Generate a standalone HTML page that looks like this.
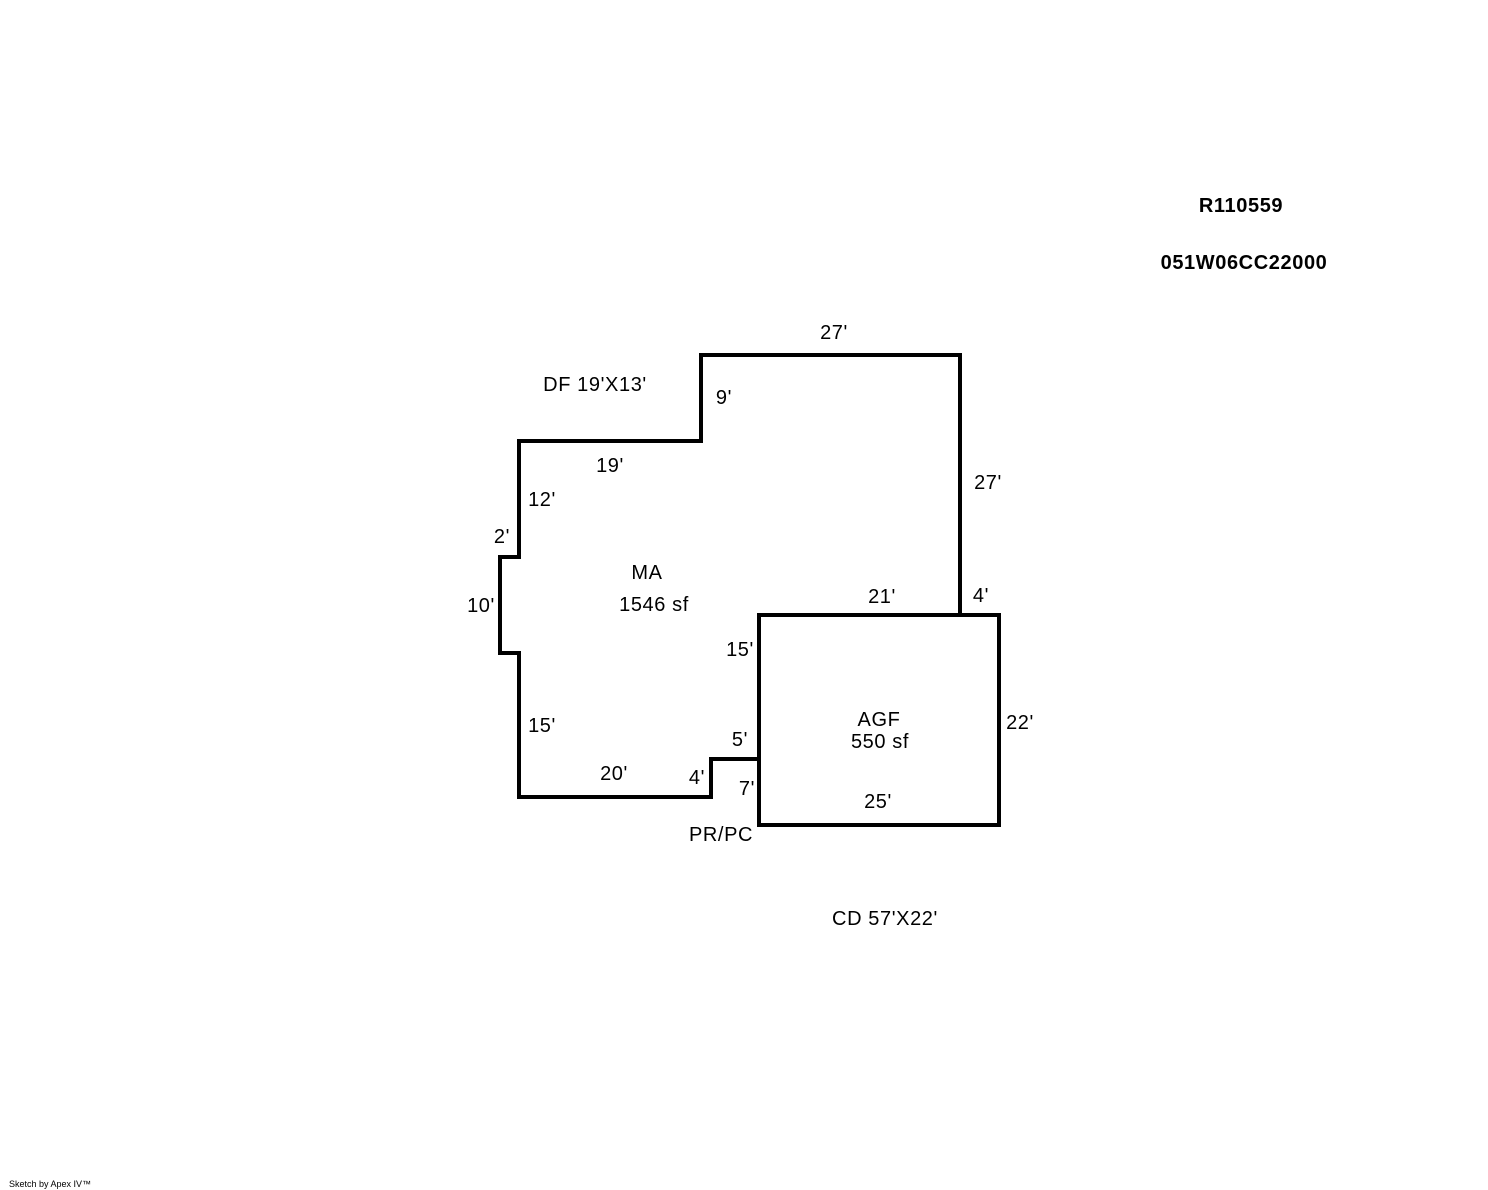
<!DOCTYPE html>
<html><head><style>
html,body{margin:0;padding:0;background:#fff;}
svg{display:block;}
text{font-family:"Liberation Sans",Arial,sans-serif;font-size:20px;letter-spacing:0.6px;fill:#000;text-anchor:middle;}
</style></head><body>
<svg width="1488" height="1190" viewBox="0 0 1488 1190">
<g fill="none" stroke="#000" stroke-width="4" stroke-linejoin="miter" stroke-linecap="square">
<polyline points="759,615 960,615 960,355 701,355 701,441 519,441 519,557 500,557 500,653 519,653 519,797 711,797 711,759 759,759"/>
<rect x="759" y="615" width="240" height="210"/>
</g>
<text x="1241" y="212" style="font-weight:bold">R110559</text>
<text x="1244" y="269" style="font-weight:bold">051W06CC22000</text>
<text x="834" y="339">27'</text>
<text x="595" y="391">DF 19'X13'</text>
<text x="724" y="404">9'</text>
<text x="610" y="472">19'</text>
<text x="988" y="489">27'</text>
<text x="542" y="506">12'</text>
<text x="502" y="543">2'</text>
<text x="647" y="579">MA</text>
<text x="654" y="611">1546 sf</text>
<text x="481" y="612">10'</text>
<text x="882" y="603">21'</text>
<text x="981" y="602">4'</text>
<text x="740" y="656">15'</text>
<text x="542" y="732">15'</text>
<text x="879" y="726">AGF</text>
<text x="880" y="748">550 sf</text>
<text x="1020" y="729">22'</text>
<text x="740" y="746">5'</text>
<text x="614" y="780">20'</text>
<text x="697" y="784">4'</text>
<text x="747" y="795">7'</text>
<text x="878" y="808">25'</text>
<text x="721" y="841">PR/PC</text>
<text x="885" y="925">CD 57'X22'</text>
<text x="50" y="1187" style="font-size:9px;letter-spacing:0">Sketch by Apex IV™</text>
</svg>
</body></html>
